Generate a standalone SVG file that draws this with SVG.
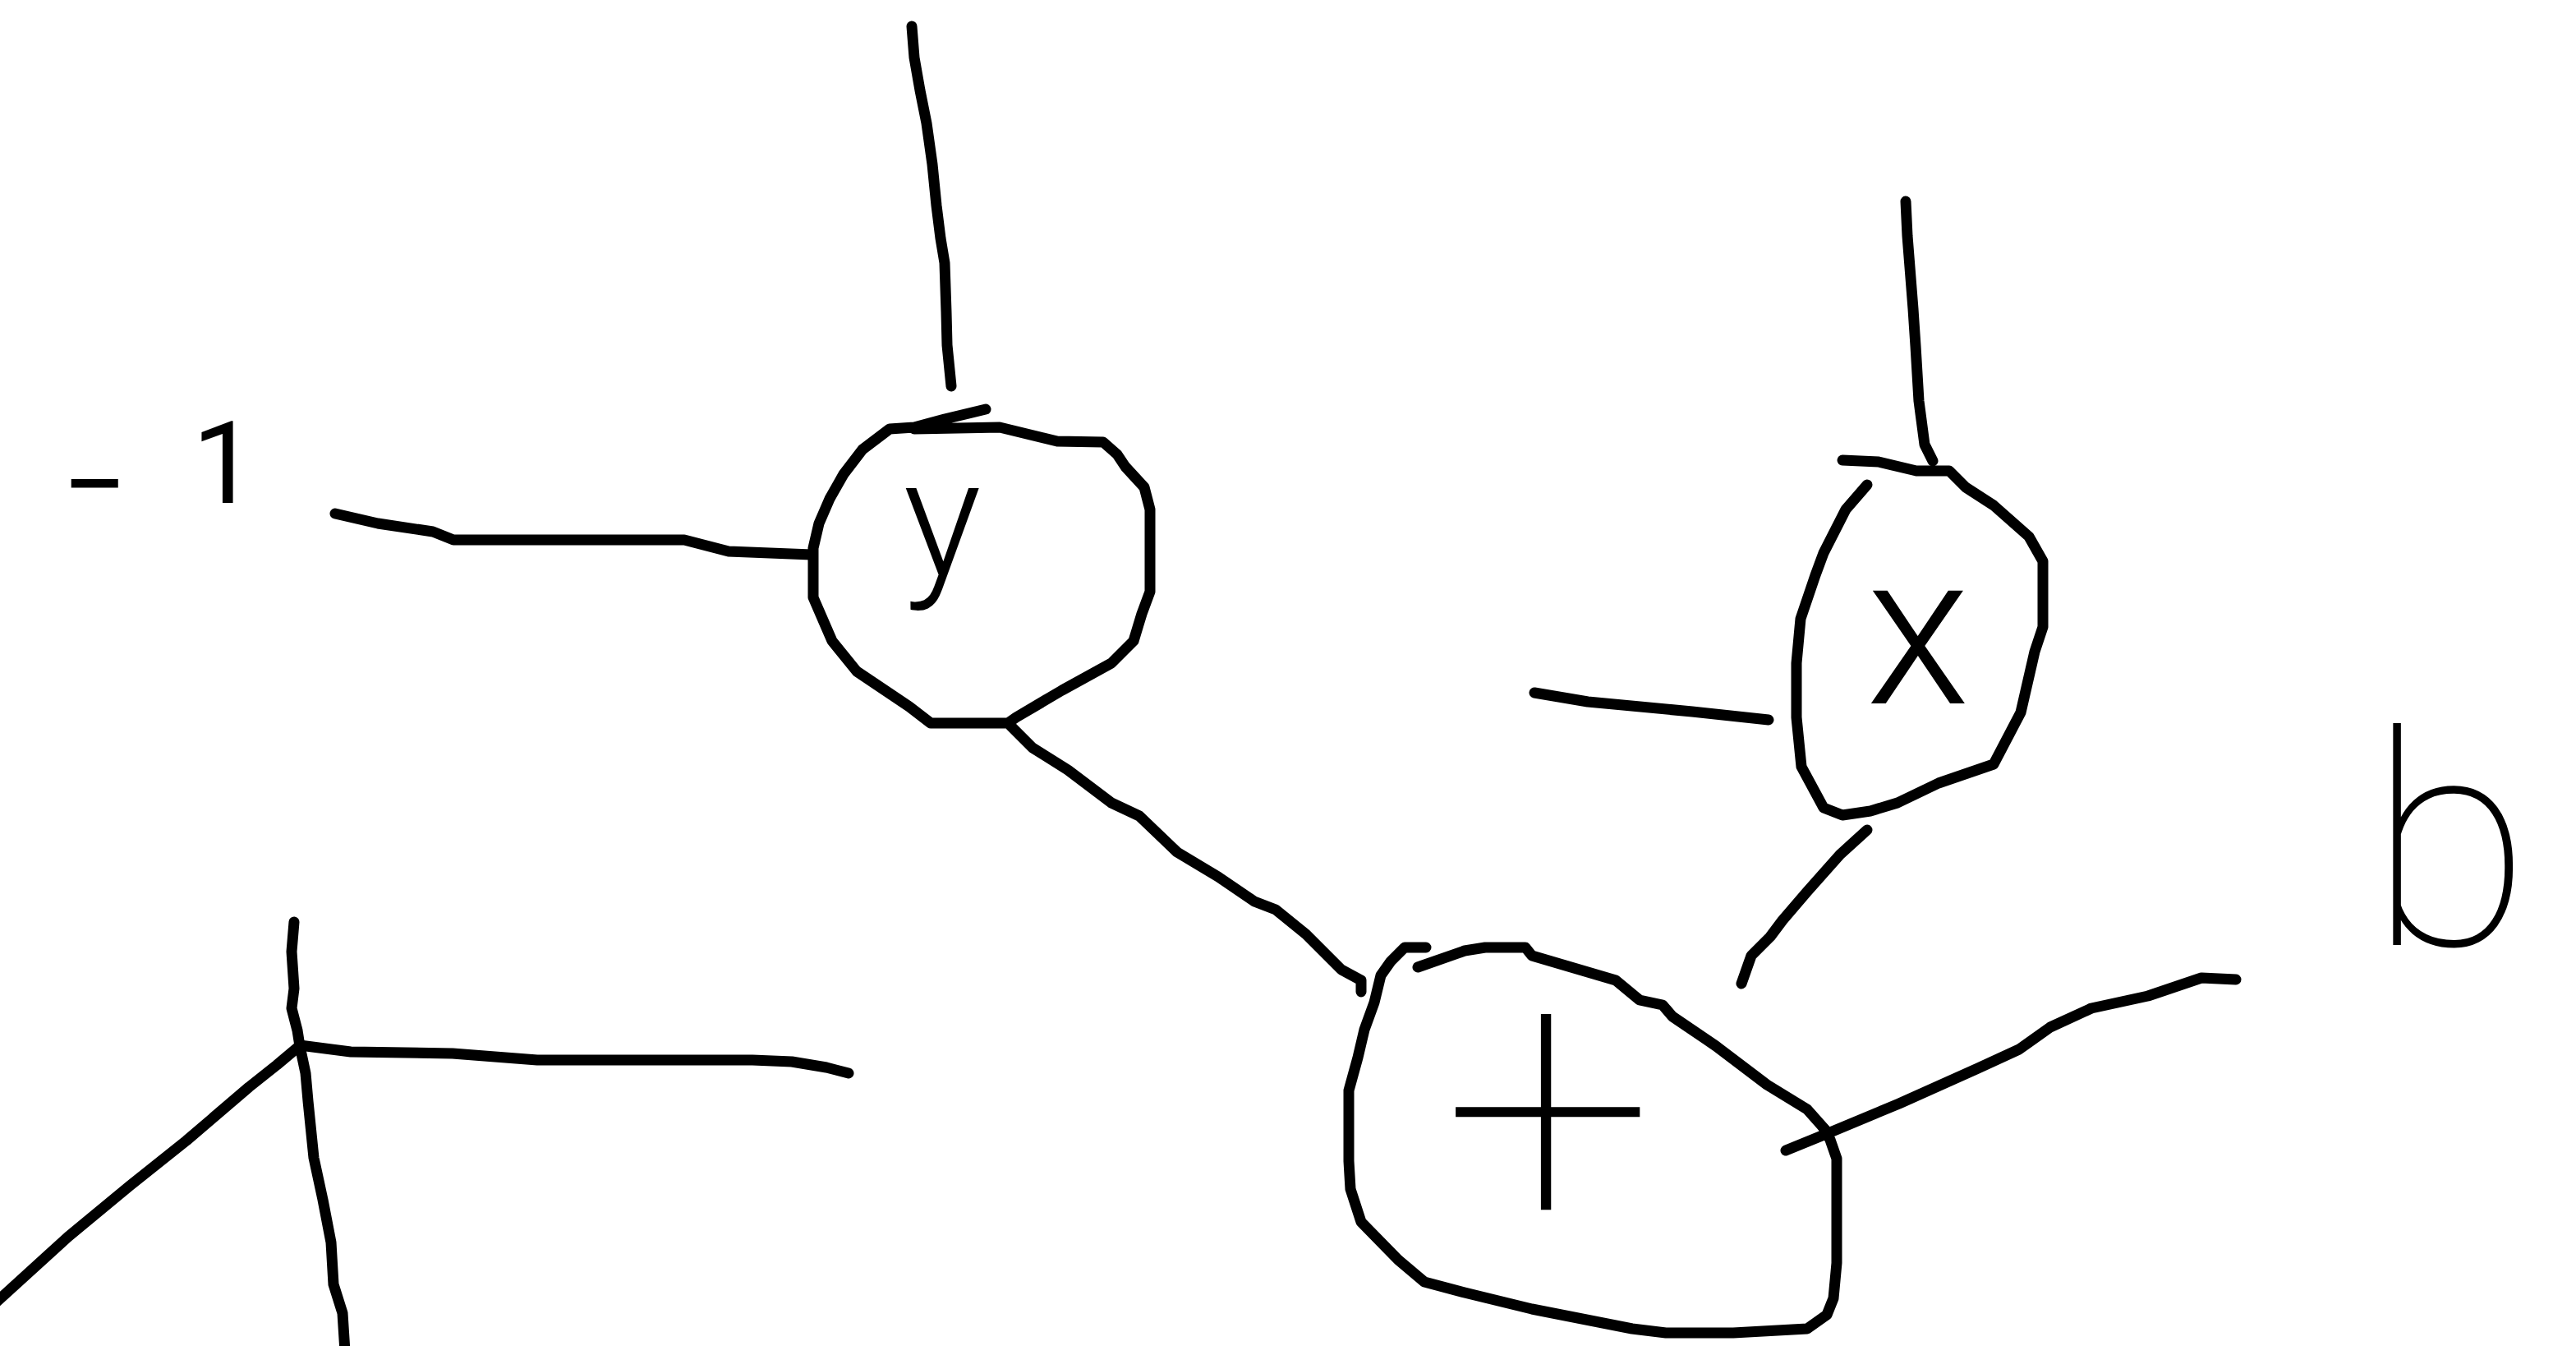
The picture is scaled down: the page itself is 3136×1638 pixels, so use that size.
<svg xmlns="http://www.w3.org/2000/svg" width="3136" height="1638" viewBox="0 0 3136 1638">
<style>
.s{fill:none;stroke:#000;stroke-width:13;stroke-linecap:round;stroke-linejoin:round}
.t{fill:#000;font-family:Roboto,Inter,Lato,"DejaVu Sans",sans-serif;font-weight:100;text-anchor:middle}
.m{font-weight:300}
.r{font-weight:400}
</style>
<rect width="3136" height="1638" fill="#fff"/>
<g id="connectors">
<path class="s" d="M1110,32 L1113,70 L1120,110 L1128,150 L1135,200 L1140,250 L1145,290 L1150,320 L1152,380 L1153,420 L1158,470"/>
<path class="s" d="M408,625 L460,637 L527,647 L552,657 L833,657 L887,671 L988,675"/>
<path class="s" d="M1230,883 L1257,910 L1300,937 L1353,977 L1387,993 L1433,1037 L1483,1067 L1527,1097 L1553,1107 L1590,1137 L1633,1180 L1657,1193 L1657,1207"/>
<path class="s" d="M2320,245 L2322,287 L2329,376 L2332,421 L2336,488 L2343,541 L2353,561"/>
<path class="s" d="M1868,843 L1933,854 L2060,866 L2153,876"/>
<path class="s" d="M2273,1010 L2240,1040 L2200,1085 L2170,1120 L2155,1140 L2132,1163 L2120,1197"/>
<path class="s" d="M2174,1400 L2228,1378 L2312,1343 L2408,1300 L2458,1277 L2496,1250 L2546,1227 L2615,1212 L2680,1190 L2722,1192"/>
</g>
<g id="node-y">
<path class="s" d="M1200,498 L1150,510 L1113,520 L1083,522 L1050,547 L1027,577 L1010,607 L997,637 L990,667 L990,727 L1013,780 L1043,817 L1107,860 L1133,880 L1227,880 L1237,873 L1293,840 L1353,807 L1380,780 L1390,747 L1400,720 L1400,620 L1393,593 L1370,568 L1360,553 L1343,538 L1287,537 L1217,520 L1113,522"/>
<text class="t m" x="1147" y="700" font-size="200">y</text>
</g>
<g id="node-x">
<path class="s" d="M2243,560 L2287,562 L2333,573 L2373,573 L2393,593 L2427,615 L2470,653 L2487,683 L2487,763 L2477,793 L2460,867 L2427,930 L2360,953 L2310,977 L2277,987 L2243,992 L2220,983 L2193,933 L2187,873 L2187,807 L2192,753 L2210,700 L2220,673 L2247,620 L2273,590"/>
<text class="t m" x="2335" y="856" font-size="260">x</text>
</g>
<g id="node-plus">
<path class="s" d="M1736,1153 L1710,1153 L1693,1170 L1681,1187 L1673,1220 L1661,1253 L1653,1287 L1642,1327 L1642,1413 L1644,1447 L1657,1487 L1702,1533 L1734,1560 L1783,1573 L1865,1593 L1987,1617 L2028,1622 L2110,1622 L2200,1617 L2224,1600 L2232,1580 L2236,1537 L2236,1410 L2228,1387 L2220,1373"/>
<path class="s" d="M1726,1177 L1783,1157 L1808,1153 L1857,1153 L1865,1163 L1967,1193 L1996,1217 L2024,1223 L2036,1237 L2089,1273 L2151,1320 L2200,1350 L2224,1377"/>
<text class="t" x="1885" y="1505" font-size="460">+</text>
</g>
<g id="label-b">
<text class="t" x="2982" y="1150" font-size="360">b</text>
</g>
<g id="label-neg1">
<text class="t r" font-size="140"><tspan x="115" y="638">−</tspan><tspan x="273" y="612">1</tspan></text>
</g>
<g id="axes">
<path class="s" d="M358,1122 L355,1158 L358,1203 L355,1227 L362,1254 L365,1273 L372,1306 L375,1340 L382,1409 L393,1460 L403,1512 L406,1563 L417,1598 L420,1645"/>
<path class="s" d="M365,1272 L427,1280 L551,1282 L654,1290 L916,1290 L964,1292 L1006,1299 L1033,1306"/>
<path class="s" d="M362,1275 L337,1296 L303,1323 L227,1388 L158,1443 L83,1505 L-5,1585"/>
</g>
</svg>
